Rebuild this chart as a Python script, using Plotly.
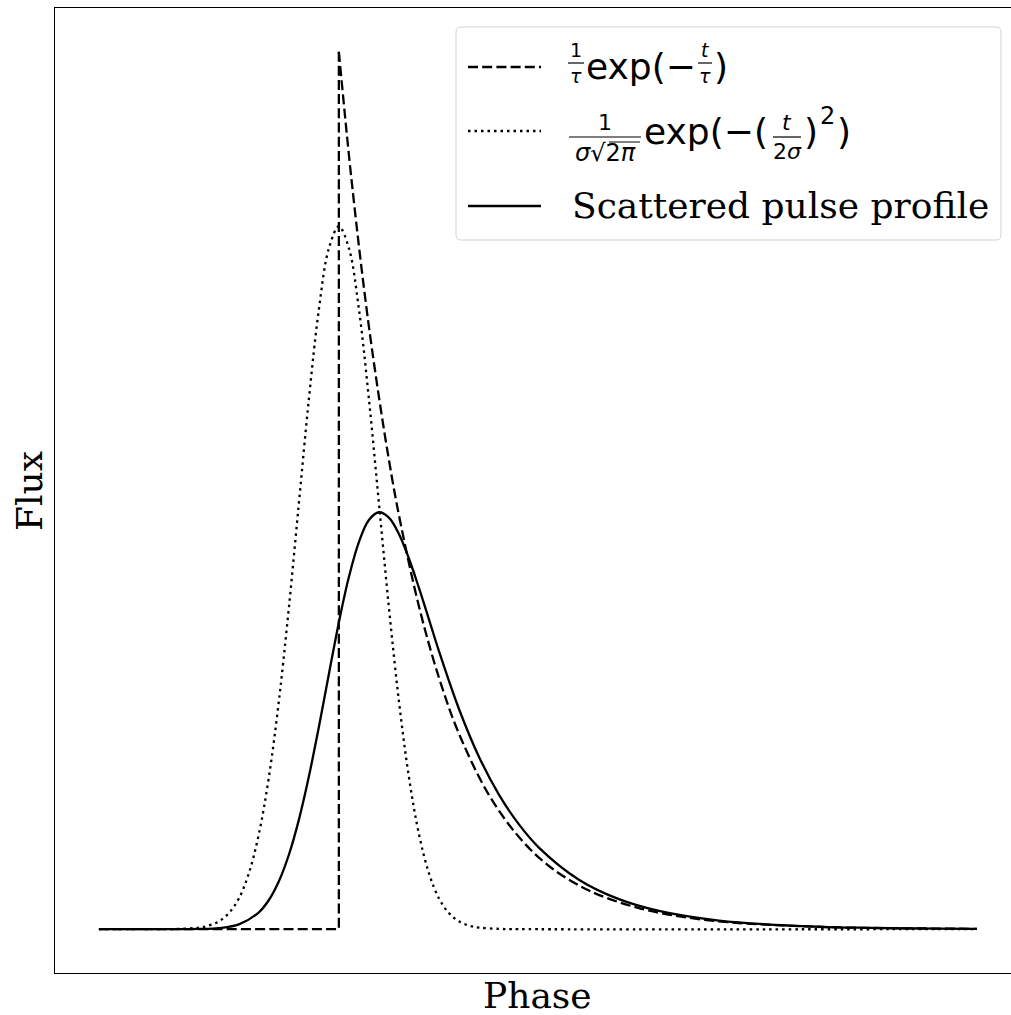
import plotly.graph_objects as go

# --- data -------------------------------------------------------------
# exponential scattering tail: zero before the pulse, then a sharp decay
exp_step_phase = [0.0, 0.2733, 0.2733]
exp_step_flux = [0.0, 0.0, 1.0]
exp_tail_phase = [0.2733, 0.2847, 0.2961, 0.3075, 0.3189, 0.3303, 0.3417, 0.3645,
                  0.3872, 0.4100, 0.4442, 0.4784, 0.5125, 0.5581, 0.6150, 0.6720,
                  0.7289, 0.7859, 0.8428, 0.9112, 1.0]
exp_tail_flux = [1.0, 0.883, 0.779, 0.687, 0.607, 0.535, 0.472, 0.368,
                 0.287, 0.223, 0.153, 0.105, 0.072, 0.044, 0.024, 0.013,
                 0.007, 0.004, 0.002, 0.001, 0.0003]

# intrinsic gaussian pulse
gauss_phase = [0.0, 0.0683, 0.0911, 0.1139, 0.1253, 0.1367, 0.1481, 0.1595, 0.1708,
               0.1822, 0.1936, 0.2050, 0.2164, 0.2278, 0.2392, 0.2506, 0.2620,
               0.2733, 0.2847, 0.2961, 0.3075, 0.3189, 0.3303, 0.3417, 0.3531,
               0.3645, 0.3759, 0.3872, 0.3986, 0.4100, 0.4214, 0.4328, 0.4556,
               0.4784, 1.0]
gauss_flux = [0.0, 0.0, 0.0003, 0.0018, 0.0041, 0.0089, 0.0183, 0.0352, 0.0637,
              0.1084, 0.1733, 0.2601, 0.3667, 0.4858, 0.6046, 0.7069, 0.7763,
              0.801, 0.7763, 0.7069, 0.6046, 0.4858, 0.3667, 0.2601, 0.1733,
              0.1084, 0.0637, 0.0352, 0.0183, 0.0089, 0.0041, 0.0018, 0.0003,
              0.0, 0.0]

# observed (scattered) pulse profile
scat_phase = [0.0, 0.0683, 0.1139, 0.1367, 0.1595, 0.1822, 0.1936, 0.2050, 0.2164,
              0.2278, 0.2392, 0.2506, 0.2620, 0.2733, 0.2847, 0.2961, 0.3075,
              0.3189, 0.3303, 0.3417, 0.3531, 0.3645, 0.3759, 0.3872, 0.4100,
              0.4328, 0.4556, 0.4784, 0.5011, 0.5467, 0.5923, 0.6378, 0.7062,
              0.7859, 0.8656, 1.0]
scat_flux = [0.0, 0.0, 0.0002, 0.0012, 0.0054, 0.0192, 0.0332, 0.0546, 0.0848,
             0.1248, 0.1742, 0.2308, 0.2911, 0.3496, 0.4013, 0.4412, 0.4663,
             0.4752, 0.4691, 0.4504, 0.4225, 0.3890, 0.3532, 0.3173, 0.2512,
             0.1966, 0.1534, 0.1194, 0.0930, 0.0564, 0.0342, 0.0208, 0.0098,
             0.0041, 0.0017, 0.0004]

# --- layout helpers -----------------------------------------------------
W, H = 1011, 1015
L, R, T, B = 55, 0, 8, 42
PW, PH = W - L - R, H - T - B

def px(x):
    return (x - L) / PW

def py(y):
    return (H - B - y) / PH

LW = 2.3
DASH = "10px,4.2px"
DOT = "2.5px,4px"
SERIF = "DejaVu Serif"
SANS = "DejaVu Sans"

fig = go.Figure()
line_common = dict(color="black", width=LW)
fig.add_trace(go.Scatter(x=exp_step_phase, y=exp_step_flux, mode="lines",
                         line=dict(dash=DASH, **line_common), showlegend=False))
fig.add_trace(go.Scatter(x=exp_tail_phase, y=exp_tail_flux, mode="lines",
                         line=dict(dash=DASH, shape="spline", **line_common),
                         showlegend=False))
fig.add_trace(go.Scatter(x=gauss_phase, y=gauss_flux, mode="lines",
                         line=dict(dash=DOT, shape="spline", **line_common),
                         showlegend=False))
fig.add_trace(go.Scatter(x=scat_phase, y=scat_flux, mode="lines",
                         line=dict(shape="spline", **line_common),
                         showlegend=False))

shapes = []
annotations = []

def text(s, x, y, size, family=SANS, xanchor="center", yanchor="middle", angle=0):
    annotations.append(dict(text=s, x=px(x), y=py(y), xref="paper", yref="paper",
                            showarrow=False, xanchor=xanchor, yanchor=yanchor,
                            textangle=angle, borderpad=0,
                            font=dict(family=family, size=size, color="black")))

def hline(x0, x1, y, width=1.3, dash="solid"):
    shapes.append(dict(type="line", xref="paper", yref="paper",
                       x0=px(x0), x1=px(x1), y0=py(y), y1=py(y),
                       line=dict(color="black", width=width, dash=dash)))

def frac(num, den, xc, ybar, half, size=18, dsize=None):
    # stacked fraction: numerator sits on the bar, denominator hangs below it
    text(num, xc, ybar - 0.5, size, yanchor="bottom")
    hline(xc - half, xc + half, ybar, width=1.2)
    text(den, xc, ybar + 0.5, dsize or size, yanchor="top")

# legend frame (rounded)
bx0, bx1, by0, by1, r = 456, 1001, 27, 240, 5
path = (f"M {px(bx0 + r)},{py(by0)} L {px(bx1 - r)},{py(by0)} "
        f"Q {px(bx1)},{py(by0)} {px(bx1)},{py(by0 + r)} "
        f"L {px(bx1)},{py(by1 - r)} Q {px(bx1)},{py(by1)} {px(bx1 - r)},{py(by1)} "
        f"L {px(bx0 + r)},{py(by1)} Q {px(bx0)},{py(by1)} {px(bx0)},{py(by1 - r)} "
        f"L {px(bx0)},{py(by0 + r)} Q {px(bx0)},{py(by0)} {px(bx0 + r)},{py(by0)} Z")
shapes.append(dict(type="path", path=path, xref="paper", yref="paper",
                   fillcolor="rgba(255,255,255,0.8)",
                   line=dict(color="#d3d3d3", width=1)))

# legend handles
hline(468, 541, 67, width=LW, dash=DASH)
hline(468, 541, 131, width=LW, dash=DOT)
hline(468, 541, 206, width=LW)

# row 1: (1/tau) exp(-t/tau)
frac("1", "<i>τ</i>", 576, 63, 8, size=19)
text("exp(−", 585, 67, 36, xanchor="left")
frac("<i>t</i>", "<i>τ</i>", 705, 63, 7, size=19)
text(")", 713, 67, 36, xanchor="left")

# row 2: 1/(sigma sqrt(2 pi)) exp(-(t/2sigma)^2)
frac("1", "<i>σ</i>√2<i>π</i>", 605, 137, 36, size=22, dsize=24)
hline(609, 640, 142, width=1.0)
text("exp(−(", 643, 131, 36, xanchor="left")
frac("<i>t</i>", "2<i>σ</i>", 787, 137, 14, size=22)
text(")", 803, 131, 36, xanchor="left")
text("2", 819, 116, 24, xanchor="left")
text(")", 836, 131, 36, xanchor="left")

# row 3
text("Scattered pulse profile", 571, 206, 36, family=SERIF, xanchor="left")

# axis titles
text("Phase", 537, 995, 36, family=SERIF)
text("Flux", 29, 491, 36, family=SERIF, angle=-90)

fig.update_layout(
    width=W, height=H,
    margin=dict(l=L, r=R, t=T, b=B, pad=0),
    paper_bgcolor="white", plot_bgcolor="white",
    showlegend=False,
    shapes=shapes, annotations=annotations,
    xaxis=dict(range=[-0.05, -0.05 + PW / 878.0], showgrid=False, zeroline=False,
               showticklabels=False, ticks="", showline=True, mirror=True,
               linecolor="black", linewidth=1.3),
    yaxis=dict(range=[-0.05, 1.05], showgrid=False, zeroline=False,
               showticklabels=False, ticks="", showline=True, mirror=False,
               linecolor="black", linewidth=1.3),
)

fig.write_html("out.html")
